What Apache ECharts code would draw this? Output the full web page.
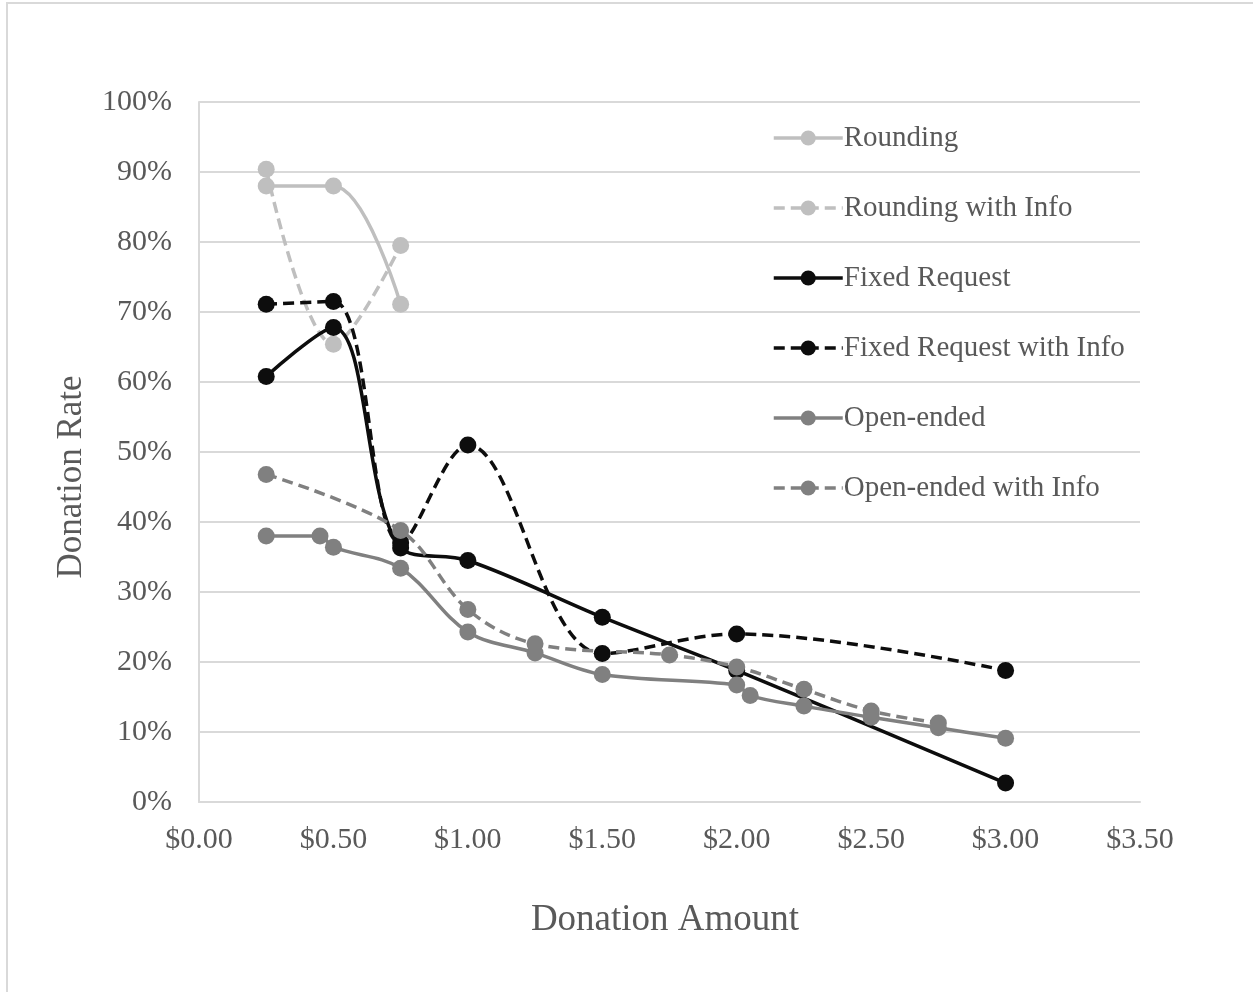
<!DOCTYPE html>
<html>
<head>
<meta charset="utf-8">
<script src="https://cdn.jsdelivr.net/npm/echarts@6/dist/echarts.min.js"></script>
<style>
html,body{margin:0;padding:0;background:#fff;}
#chart{width:1253px;height:992px;}
</style>
</head>
<body>
<div id="chart"></div>
<script>
// Data: [donation amount ($), donation rate (%)]
const rounding = [[0.25, 88.0], [0.50, 88.0], [0.75, 71.1]];
const roundingInfo = [[0.25, 90.4], [0.50, 65.4], [0.75, 79.5]];
const fixedRequest = [[0.25, 60.8], [0.50, 67.8], [0.75, 36.3], [1.00, 34.5], [1.50, 26.4], [2.00, 18.8], [3.00, 2.7]];
const fixedRequestInfo = [[0.25, 71.1], [0.50, 71.5], [0.75, 37.0], [1.00, 51.0], [1.50, 21.2], [2.00, 24.0], [3.00, 18.8]];
const openEnded = [[0.25, 38.0], [0.45, 38.0], [0.50, 36.4], [0.75, 33.4], [1.00, 24.3], [1.25, 21.3], [1.50, 18.2], [2.00, 16.7], [2.05, 15.2], [2.25, 13.7], [2.50, 12.1], [2.75, 10.6], [3.00, 9.1]];
const openEndedInfo = [[0.25, 46.8], [0.75, 38.8], [1.00, 27.5], [1.25, 22.6], [1.75, 21.0], [2.00, 19.3], [2.25, 16.1], [2.50, 13.0], [2.75, 11.3]];

const seriesNames = ['Rounding', 'Rounding with Info', 'Fixed Request', 'Fixed Request with Info', 'Open-ended', 'Open-ended with Info'];
const xTicks = [0, 0.5, 1, 1.5, 2, 2.5, 3, 3.5];
const yTicks = [0, 10, 20, 30, 40, 50, 60, 70, 80, 90, 100];

const LIGHT = '#bfbfbf', BLACK = '#0d0d0d', MID = '#808080';
const FONT = '"Liberation Serif", "Times New Roman", serif';
const TXT = '#595959';

function mk(name, data, color, dashed) {
  return {
    name: name,
    type: 'line',
    data: data,
    smooth: 0.35,
    symbol: 'circle',
    symbolSize: 17,
    showSymbol: true,
    itemStyle: { color: color },
    lineStyle: { color: color, width: 3.5, type: dashed ? [11, 6] : 'solid', cap: 'butt' },
    emphasis: { disabled: true },
    animation: false
  };
}

const chart = echarts.init(document.getElementById('chart'), null, { renderer: 'canvas' });
chart.setOption({
  backgroundColor: '#ffffff',
  animation: false,
  grid: { left: 199, right: 113, top: 102, bottom: 190, containLabel: false },
  xAxis: {
    type: 'value',
    min: xTicks[0], max: xTicks[xTicks.length - 1], interval: 0.5,
    axisLine: { show: true, lineStyle: { color: '#d9d9d9', width: 2 } },
    axisTick: { show: false },
    splitLine: { show: false },
    axisLabel: {
      margin: 23, color: TXT, fontFamily: FONT, fontSize: 30,
      formatter: v => '$' + v.toFixed(2)
    }
  },
  yAxis: {
    type: 'value',
    min: yTicks[0], max: yTicks[yTicks.length - 1], interval: 10,
    axisLine: { show: true, lineStyle: { color: '#d9d9d9', width: 2 } },
    axisTick: { show: false },
    splitLine: { show: true, lineStyle: { color: '#d9d9d9', width: 2 } },
    axisLabel: {
      margin: 27, color: TXT, fontFamily: FONT, fontSize: 30,
      formatter: v => v + '%'
    }
  },
  legend: {
    orient: 'vertical',
    left: 767, top: 118,
    itemWidth: 69, itemHeight: 19, itemGap: 40,
    lineStyle: { width: 3.5 },
    textStyle: { color: TXT, fontFamily: FONT, fontSize: 29, lineHeight: 30, padding: [0, 0, 0, -4] },
    data: seriesNames,
    selectedMode: false
  },
  graphic: [
    { type: 'rect', shape: { x: 7, y: 3, width: 1400, height: 1200 }, style: { fill: 'none', stroke: '#d9d9d9', lineWidth: 2 }, z: -10, silent: true },
    { type: 'text', x: 665, y: 920, style: { text: 'Donation Amount', fill: TXT, font: '37px ' + FONT, textAlign: 'center', textVerticalAlign: 'middle' } },
    { type: 'text', x: 72, y: 477, rotation: Math.PI / 2, style: { text: 'Donation Rate', fill: TXT, font: '35px ' + FONT, textAlign: 'center', textVerticalAlign: 'middle' } }
  ],
  series: [
    mk(seriesNames[0], rounding, LIGHT, false),
    mk(seriesNames[1], roundingInfo, LIGHT, true),
    mk(seriesNames[2], fixedRequest, BLACK, false),
    mk(seriesNames[3], fixedRequestInfo, BLACK, true),
    mk(seriesNames[4], openEnded, MID, false),
    mk(seriesNames[5], openEndedInfo, MID, true)
  ]
});
</script>
</body>
</html>
